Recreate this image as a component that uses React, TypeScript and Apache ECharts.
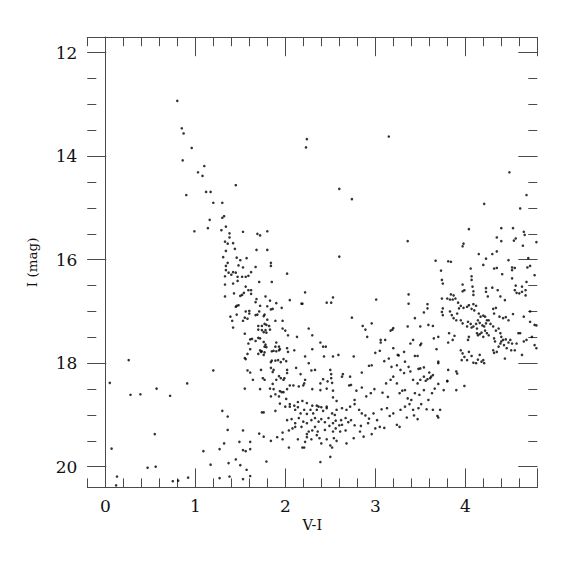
import React, { useEffect, useRef } from 'react';
import * as echarts from 'echarts';

type P = [number, number];

// V-I, I (mag)
const upperBranch: P[] = [
  [0.80,12.93],[0.85,13.46],[0.87,13.56],[0.96,13.84],[0.86,14.08],[1.10,14.19],[1.03,14.31],[1.08,14.38],[1.45,14.56],[0.90,14.75],[1.12,14.69],[1.17,14.69],[1.20,14.90],[1.30,14.90],[1.16,15.23],[1.30,15.19],[1.32,15.16],[1.14,15.39],[1.34,15.36],[0.99,15.45],[1.29,15.43]
];

const isolatedBright: P[] = [
  [2.24,13.67],[2.23,13.83],[3.15,13.62],[2.60,14.63],[2.74,14.83],[2.60,15.94],[3.36,15.64]
];

const lowerLeft: P[] = [
  [0.26,17.94],[0.05,18.38],[0.28,18.61],[0.39,18.60],[0.57,18.49],[0.72,18.63],[0.91,18.39],[1.20,18.14],[0.55,19.37],[0.07,19.65],[1.09,19.70],[1.17,19.96],[0.47,20.02],[0.56,20.00],[0.13,20.19],[0.12,20.36],[0.75,20.28],[0.81,20.27],[0.92,20.21]
];

const subgiantBranch: P[] = [
  [1.38,15.49],[1.38,15.57],[1.53,15.46],[1.69,15.50],[1.72,15.53],[1.80,15.45],
  [1.33,15.65],[1.36,15.69],[1.42,15.68],[1.44,15.79],[1.34,15.83],[1.68,15.81],[1.80,15.81],
  [1.31,15.95],[1.46,15.96],[1.50,16.01],[1.57,15.97],[1.36,16.06],[1.34,16.12],[1.48,16.11],[1.53,16.15],[1.84,16.06],[1.84,16.12],[1.67,16.14],
  [1.34,16.20],[1.37,16.25],[1.42,16.24],[1.45,16.25],[1.33,16.32],[1.40,16.29],[1.47,16.33],[1.52,16.33],[1.56,16.33],[1.59,16.31],[1.62,16.24],[1.47,16.41],[2.02,16.27],
  [1.33,16.48],[1.42,16.46],[1.56,16.52],[1.59,16.59],[1.62,16.59],[1.71,16.43],[1.85,16.43],[1.54,16.64],[1.62,16.66],[1.43,16.65],[1.33,16.71],[2.22,16.63],
  [1.50,16.70],[1.52,16.68],[1.68,16.76],[1.78,16.71],[1.83,16.79],[1.67,16.82],[1.72,16.89],[1.90,16.84],[2.05,16.78],[2.18,16.85],[2.19,16.85],[2.46,16.83],[2.51,16.83],[2.53,16.73],
  [1.46,16.89],[1.48,16.88],[1.45,16.91],[1.60,16.99],[1.56,17.00],[1.60,17.04],[1.80,16.90],[1.86,16.95],[1.96,16.93],[1.39,17.10],[1.46,17.06],[1.55,17.12],
  [1.71,17.00],[1.69,17.06],[1.67,17.07],[1.77,17.06],[1.76,17.09],[1.84,16.96],[1.41,17.18],[1.42,17.31],[1.53,17.18],[1.58,17.14],[1.80,17.16],[1.89,17.18],[1.97,17.18],
  [1.70,17.28],[1.74,17.28],[1.77,17.24],[1.79,17.26],[1.82,17.28],[1.70,17.35],[1.74,17.36],[1.78,17.36],[1.76,17.40],[1.79,17.41],[1.83,17.35],[1.97,17.33],[2.00,17.37],
  [2.03,17.46],[2.13,17.49],[2.26,17.33],[2.30,17.46],[1.55,17.43],[1.61,17.54],[1.63,17.53],[1.70,17.51],[1.72,17.52],[1.67,17.57],
  [1.76,17.59],[1.78,17.64],[1.77,17.68],[1.79,17.69],[1.90,17.60],[1.93,17.68],[1.89,17.68],[1.59,17.62],[1.61,17.73],[1.58,17.82],[1.55,17.90],[1.56,17.92],
  [1.72,17.75],[1.73,17.78],[1.70,17.82],[1.74,17.77],[1.77,17.79],[1.76,17.84],[1.85,17.77],[1.87,17.76],[1.90,17.77],[1.93,17.75],[1.94,17.73],[2.02,17.71],[2.03,17.78],[2.10,17.75],
  [2.30,17.73],[2.39,17.60],[2.42,17.68],[2.45,17.68],[2.22,17.87],[2.26,18.00],[2.43,17.87],[2.53,17.87],[2.59,17.84],
  [1.58,18.14],[1.61,18.18],[1.64,18.32],[1.73,18.13],[1.75,18.29],[1.77,18.32],
  [1.85,17.95],[1.84,17.98],[1.89,17.95],[1.92,17.94],[1.95,17.98],[1.98,17.92],[2.01,17.96],[1.84,18.09],[1.87,18.13],[1.86,18.17],
  [1.93,18.25],[1.95,18.29],[1.99,18.29],[1.98,18.32],[1.90,18.32],[1.86,18.40],[2.02,18.13],[2.02,18.19],[2.12,18.09],[2.17,18.21],[2.22,18.32],[2.21,18.39],
  [2.29,18.14],[2.33,18.13],[2.39,18.39],[2.42,18.31],[2.50,18.13],[2.51,18.21],[2.51,18.29],[2.47,18.35],[2.52,18.38],[2.64,18.21],[2.63,18.26],
  [1.55,18.49],[1.72,18.50],[1.83,18.49],[1.87,18.50],[1.94,18.54],[1.98,18.56],[2.02,18.50],[2.05,18.43],[2.09,18.43],[2.15,18.45],[2.20,18.43],[2.30,18.50],[2.39,18.52],[2.46,18.49],[2.53,18.53],[2.71,18.43]
];

const turnoffFaint: P[] = [
  [1.30,18.92],[1.36,19.03],[1.36,19.29],[1.32,19.55],[1.27,19.66],[1.53,19.30],[1.49,19.52],[1.53,19.68],[1.56,19.70],[1.61,19.66],[1.61,19.52],[1.45,19.86],[1.50,19.97],[1.57,20.06],[1.61,20.18],[1.53,20.24],[1.38,20.19],[1.27,20.22],[1.37,19.93],
  [1.79,19.90],[1.71,19.36],[1.76,19.42],[1.74,18.95],[1.76,18.95],[1.89,18.92],[1.84,19.50],[1.91,19.43],[1.97,19.47],[1.97,19.34],[2.04,19.30],[2.04,19.63],[2.08,19.26],[2.11,19.23],[2.14,19.47],[2.19,19.63],[2.21,19.63],[2.22,19.52],[2.24,19.43],[2.24,19.37],[2.26,19.32],[2.29,19.47],[2.35,19.39],[2.38,19.45],[2.33,19.23],[2.36,19.32],[2.30,19.30],
  [2.40,19.55],[2.46,19.47],[2.50,19.59],[2.52,19.63],[2.54,19.45],[2.57,19.50],[2.50,19.81],[2.39,19.91],[2.44,19.29],[2.49,19.21],[2.53,19.32],[2.56,19.26],[2.61,19.32],[2.63,19.19],[2.67,19.30],[2.68,19.55],
  [2.02,19.10],[2.07,19.08],[2.11,19.16],[2.15,19.06],[2.18,19.23],[2.20,19.13],[2.24,19.16],[2.29,19.10],[2.33,19.06],[2.37,19.13],[2.40,19.08],[2.44,19.14],[2.48,19.06],[2.53,19.16],[2.56,19.11],[2.60,19.20],[2.62,19.10],[2.67,19.06],[2.70,19.14],
  [1.94,18.78],[2.00,18.84],[2.05,18.84],[2.11,18.90],[2.14,18.85],[2.17,18.97],[2.21,18.90],[2.24,18.98],[2.28,18.90],[2.31,18.97],[2.35,18.90],[2.37,18.84],[2.42,18.92],[2.46,18.87],[2.52,18.97],[2.55,19.00],[2.57,18.90],[2.63,18.87],[2.68,18.90],
  [1.84,18.64],[1.89,18.60],[1.93,18.64],[1.96,18.56],[2.01,18.69],[2.05,18.79],[2.10,18.82],[2.14,18.75],[2.19,18.73],[2.24,18.77],[2.30,18.82],[2.35,18.82],[2.40,18.85],[2.46,18.84],[2.53,18.66],[2.57,18.73],
  [2.76,19.45],[2.83,19.32],[2.87,19.42],[2.96,19.37],[3.00,19.26]
];

const redGiantBranch: P[] = [
  [4.35,15.57],[4.40,15.64],[4.65,15.46],[4.66,15.52],[4.56,15.59],[4.54,15.63],[4.79,15.66],[4.64,15.73],[3.97,15.74],[3.98,15.69],[4.15,15.89],[4.20,16.10],[4.23,15.98],[4.30,15.89],[4.35,15.84],[4.48,16.01],[4.70,15.97],[4.69,16.15],[4.72,16.12],[4.77,16.30],
  [4.04,15.41],[4.40,15.39],[4.53,15.39],[4.49,14.31],[4.68,14.75],[4.21,14.92],[4.61,15.01],
  [3.67,16.02],[3.81,16.03],[3.84,16.04],[4.06,16.17],[3.73,16.21],[4.32,16.17],[4.35,16.16],[4.52,16.15],[4.55,16.16],[4.52,16.20],[4.41,16.28],[4.07,16.32],[4.07,16.39],[3.74,16.39],[3.75,16.46],
  [4.52,16.36],[4.56,16.50],[4.55,16.59],[4.63,16.52],[4.67,16.59],[4.68,16.43],[4.67,16.69],[4.57,16.64],[4.60,16.65],[4.63,16.62],
  [3.97,16.48],[3.99,16.59],[3.97,16.61],[4.08,16.52],[4.09,16.61],[4.09,16.68],[4.23,16.55],[4.23,16.62],[4.25,16.71],[4.30,16.54],[4.36,16.59],[4.39,16.71],[4.44,16.78],
  [3.84,16.67],[3.87,16.69],[3.89,16.75],[3.86,16.77],[3.83,16.77],[3.80,16.75],[3.74,16.75],[3.75,16.94],[3.75,17.07],[3.74,17.01],
  [3.92,16.83],[3.93,16.94],[3.95,16.89],[3.98,16.93],[4.02,16.91],[4.04,16.88],[4.07,16.95],[4.09,16.86],[4.10,16.98],[4.12,16.89],
  [4.15,17.04],[4.17,17.10],[4.20,17.08],[4.22,17.10],[4.26,17.17],[4.31,16.95],[4.32,17.04],[4.34,16.93],[4.38,17.10],[4.42,17.13],[4.45,17.11],[4.48,17.17],[4.53,17.05],[4.65,17.10],[4.72,17.20],[4.79,17.27],
  [3.83,17.00],[3.85,17.07],[3.87,17.13],[3.90,17.17],[3.91,17.04],[3.95,17.17],[3.97,17.23],[4.02,17.29],[4.03,17.20],[4.06,17.24],[4.07,17.31],[4.09,17.29],[4.12,17.24],[4.13,17.33],
  [4.14,17.17],[4.16,17.22],[4.19,17.27],[4.21,17.29],[4.23,17.23],[4.24,17.17],
  [4.13,17.42],[4.14,17.46],[4.16,17.44],[4.18,17.41],[4.20,17.49],[4.22,17.37],[4.24,17.42],[4.26,17.46],
  [4.28,17.24],[4.31,17.29],[4.34,17.37],[4.37,17.33],[4.39,17.42],[4.40,17.49],
  [4.32,17.52],[4.33,17.58],[4.31,17.75],[4.32,17.80],[4.35,17.78],[4.37,17.68],[4.39,17.62],[4.40,17.58],[4.42,17.55],[4.43,17.65],
  [4.45,17.54],[4.48,17.60],[4.50,17.55],[4.52,17.62],[4.51,17.75],[4.46,17.71],[4.44,17.91],[4.55,17.75],[4.57,17.62],
  [4.59,17.42],[4.61,17.42],[4.65,17.58],[4.63,17.84],[4.68,17.55],[4.74,17.49],[4.77,17.65],[4.79,17.71],[4.72,17.00],[4.77,17.26]
];

const middleBranch: P[] = [
  [2.86,17.28],[2.89,17.35],[2.91,17.49],[2.96,17.23],[3.01,16.77],[2.74,17.12],[3.17,17.37],[3.20,17.32],[3.19,17.35],[3.36,17.29],[3.37,16.85],[3.37,16.67],
  [3.44,17.13],[3.50,17.29],[3.54,17.02],[3.58,16.86],[3.58,16.94],[3.64,17.28],[3.59,17.26],[3.06,17.55],[3.06,17.60],[3.11,17.55],[3.00,17.80],[3.05,17.76],
  [2.93,18.05],[2.96,18.04],[2.85,18.18],[2.76,17.87],[2.72,18.26],[3.10,17.96],[3.15,17.91],[3.18,18.07],[3.24,18.04],[3.20,17.71],[3.25,17.84],[3.26,17.85],
  [3.32,17.78],[3.39,17.62],[3.42,17.55],[3.44,17.86],[3.50,17.65],[3.51,17.62],[3.33,17.97],[3.37,18.07],[3.47,17.86],[3.48,18.11],[3.50,18.10],
  [3.54,18.08],[3.60,18.18],[3.58,18.31],[3.62,18.26],[3.65,17.52],[3.70,17.49],[3.68,17.73],[3.70,18.00],[3.70,17.97],
  [3.81,17.60],[3.82,17.42],[3.86,17.55],[3.88,17.47],[3.81,18.13],[3.80,18.34],[3.90,18.16],[3.91,18.20],[3.99,18.44],
  [3.95,17.75],[3.97,17.81],[3.99,17.88],[3.96,17.94],[4.02,17.94],[4.04,17.78],[4.07,17.86],[4.09,17.99],[4.12,18.00],[4.14,17.93],[4.16,17.84],[4.18,17.97],[4.20,17.94],[4.21,18.00],[4.04,17.49],[4.03,17.55]
];

const lowerBranch: P[] = [
  [2.73,18.42],[2.79,18.53],[2.77,18.71],[2.85,18.47],[2.90,18.64],[2.95,18.58],[2.99,18.50],
  [2.72,18.84],[2.77,18.79],[2.82,18.90],[2.85,18.97],[2.89,19.01],[2.93,19.07],[2.98,18.97],
  [2.73,19.10],[2.77,19.20],[2.84,19.21],[2.92,19.16],[3.02,19.10],[3.05,19.23],[3.10,19.25],
  [3.07,18.89],[3.13,18.87],[3.20,18.97],[3.16,19.02],[3.24,19.19],[3.27,19.23],
  [3.08,18.57],[3.12,18.39],[3.14,18.65],[3.17,18.32],[3.20,18.26],[3.24,18.39],[3.27,18.58],[3.30,18.53],[3.33,18.52],
  [3.28,18.13],[3.32,18.19],[3.39,18.16],[3.42,18.32],[3.47,18.39],[3.50,18.32],[3.54,18.26],[3.56,18.34],[3.61,18.29],[3.64,18.23],
  [3.36,18.68],[3.40,18.71],[3.44,18.58],[3.49,18.61],[3.54,18.52],[3.59,18.71],[3.63,18.58],[3.66,18.49],[3.70,18.40],[3.76,18.52],[3.80,18.35],[3.90,18.52],
  [3.28,18.90],[3.33,18.84],[3.38,18.79],[3.42,18.90],[3.48,18.87],[3.51,18.79],[3.57,18.89],[3.64,18.90],[3.69,19.02],[3.72,18.90],[3.70,19.05],
  [3.35,19.05],[3.43,19.01],[3.47,19.08]
];

const xMajorTicks = [0, 1, 2, 3, 4];
const yMajorTicks = [12, 14, 16, 18, 20];
const xTitle = 'V-I';
const yTitle = 'I (mag)';

const stars: P[] = [
  ...upperBranch, ...isolatedBright, ...lowerLeft, ...subgiantBranch,
  ...turnoffFaint, ...redGiantBranch, ...middleBranch, ...lowerBranch,
];

const AXIS = '#4a4a4a';
const FONT = 'DejaVu Serif';

export default function App() {
  const ref = useRef<HTMLDivElement>(null);
  useEffect(() => {
    if (!ref.current) return;
    const chart = echarts.init(ref.current, undefined, { renderer: 'svg' });
    const line = { show: true, lineStyle: { color: AXIS, width: 1 } };
    const noLine = { show: false };
    const tick = (len: number) => ({ show: true, inside: true, length: len, lineStyle: { color: AXIS, width: 1 } });
    const noLabel = { show: false };
    const noSplit = { show: false };
    const xLabel = {
      show: true, margin: 10, color: '#111', fontFamily: FONT, fontSize: 17,
      formatter: (v: number) => (xMajorTicks.includes(v) ? String(v) : ''),
    };
    const yLabel = {
      show: true, margin: 10, color: '#111', fontFamily: FONT, fontSize: 17,
      formatter: (v: number) => (yMajorTicks.includes(v) ? String(v) : ''),
    };
    chart.setOption({
      animation: false,
      backgroundColor: '#fff',
      grid: [
        { left: 87.3, top: 37.2, width: 450, height: 450.2 },
        { left: 105.3, top: 37.2, width: 432, height: 450.2 },
        { left: 87.3, top: 52.7, width: 450, height: 434.7 },
      ],
      xAxis: [
        { gridIndex: 0, type: 'value', min: -0.2, max: 4.8, interval: 0.2, position: 'bottom',
          axisLine: line, axisTick: tick(9), axisLabel: noLabel, splitLine: noSplit,
          name: xTitle, nameLocation: 'middle', nameGap: 30,
          nameTextStyle: { fontFamily: FONT, fontSize: 14.5, color: '#111' } },
        { gridIndex: 0, type: 'value', min: -0.2, max: 4.8, interval: 0.2, position: 'top',
          axisLine: line, axisTick: tick(9), axisLabel: noLabel, splitLine: noSplit },
        { gridIndex: 1, type: 'value', min: 0, max: 4.8, interval: 1, position: 'bottom',
          axisLine: noLine, axisTick: tick(19), axisLabel: xLabel, splitLine: noSplit },
        { gridIndex: 1, type: 'value', min: 0, max: 4.8, interval: 1, position: 'top',
          axisLine: noLine, axisTick: tick(19), axisLabel: noLabel, splitLine: noSplit },
        { gridIndex: 2, type: 'value', min: 0, max: 1, show: false },
      ],
      yAxis: [
        { gridIndex: 0, type: 'value', min: 11.7, max: 20.4, inverse: true, position: 'left',
          axisLine: line, axisTick: { show: false }, axisLabel: noLabel, splitLine: noSplit,
          name: yTitle, nameLocation: 'middle', nameGap: 48, nameRotate: 90,
          nameTextStyle: { fontFamily: FONT, fontSize: 13.5, color: '#111' } },
        { gridIndex: 0, type: 'value', min: 11.7, max: 20.4, inverse: true, position: 'right',
          axisLine: line, axisTick: { show: false }, axisLabel: noLabel, splitLine: noSplit },
        { gridIndex: 1, type: 'value', min: 0, max: 1, show: false },
        { gridIndex: 2, type: 'value', min: 12, max: 20.4, interval: 0.5, inverse: true, position: 'left',
          axisLine: noLine, axisTick: tick(9), axisLabel: noLabel, splitLine: noSplit },
        { gridIndex: 2, type: 'value', min: 12, max: 20.4, interval: 2, inverse: true, position: 'left',
          axisLine: noLine, axisTick: tick(19), axisLabel: yLabel, splitLine: noSplit },
        { gridIndex: 2, type: 'value', min: 12, max: 20.4, interval: 0.5, inverse: true, position: 'right',
          axisLine: noLine, axisTick: tick(9), axisLabel: noLabel, splitLine: noSplit },
        { gridIndex: 2, type: 'value', min: 12, max: 20.4, interval: 2, inverse: true, position: 'right',
          axisLine: noLine, axisTick: tick(19), axisLabel: noLabel, splitLine: noSplit },
      ],
      series: [
        { type: 'scatter', xAxisIndex: 0, yAxisIndex: 0, data: stars, symbol: 'circle',
          symbolSize: 2.6, itemStyle: { color: '#000' }, silent: true },
      ],
    });
    return () => chart.dispose();
  }, []);
  return (
    <div
      ref={ref}
      style={{ position: 'fixed', left: 0, top: 0, width: 575, height: 575, background: '#fff' }}
    />
  );
}
